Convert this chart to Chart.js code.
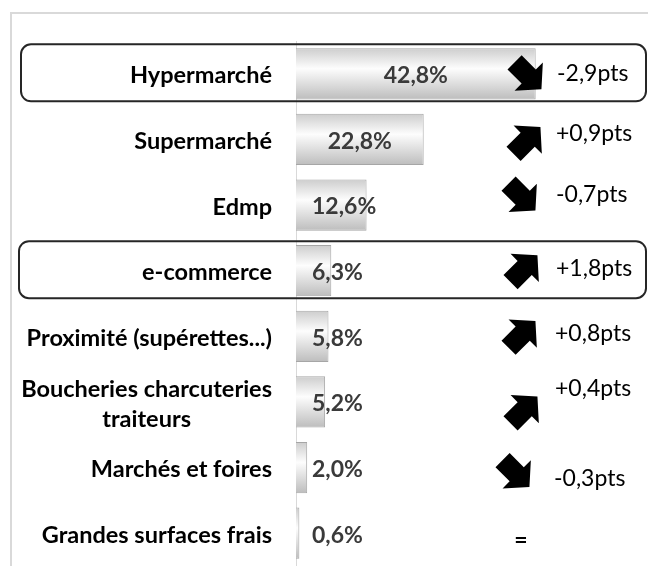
<!DOCTYPE html>
<html>
<head>
<meta charset="utf-8">
<script src="https://cdn.jsdelivr.net/npm/chart.js@4"></script>
<style>
  html, body { margin: 0; padding: 0; background: #fff; }
  #wrap { width: 648px; height: 566px; position: relative; }
</style>
</head>
<body>
<div id="wrap"><canvas id="chart"></canvas></div>
<script>
const categories = [
    "Hypermarché",
    "Supermarché",
    "Edmp",
    "e-commerce",
    "Proximité (supérettes...)",
    ["Boucheries charcuteries", "traiteurs"],
    "Marchés et foires",
    "Grandes surfaces frais"
];
const shares = [42.8, 22.8, 12.6, 6.3, 5.8, 5.2, 2.0, 0.6];
const changes = [-2.9, 0.9, -0.7, 1.8, 0.8, 0.4, -0.3, 0];
const highlighted = [0, 3];

const fmtShare = v => v.toFixed(1).replace(".", ",") + "%";
const fmtChange = v => v === 0 ? "=" : (v > 0 ? "+" : "-") + Math.abs(v).toFixed(1).replace(".", ",") + "pts";

// hand placed arrows / texts, offsets from each row centre (like the original slide)
const rowLayout = [
    { ax: 528, ay: 2, tx: 557, ty: 0 },
    { ax: 527, ay: 1, tx: 556, ty: -6 },
    { ax: 522, ay: -8, tx: 556, ty: -10 },
    { ax: 524, ay: -2, tx: 556, ty: -2 },
    { ax: 522, ay: -2, tx: 555, ty: -3 },
    { ax: 524, ay: 8, tx: 555, ty: -13 },
    { ax: 516, ay: 6, tx: 554, ty: 11 },
    { ax: 521, ay: 7, tx: 521, ty: 7 }
];

function drawArrow(ctx, cx, cy, up) {
    const a = 19, s = 10, h = 20, hl = 18;
    ctx.save();
    ctx.translate(cx, cy);
    ctx.rotate(up ? -Math.PI / 4 : Math.PI / 4);
    ctx.beginPath();
    ctx.moveTo(-a, -s);
    ctx.lineTo(a - hl, -s);
    ctx.lineTo(a - hl, -h);
    ctx.lineTo(a, 0);
    ctx.lineTo(a - hl, h);
    ctx.lineTo(a - hl, s);
    ctx.lineTo(-a, s);
    ctx.closePath();
    ctx.fillStyle = "#000";
    ctx.fill();
    ctx.restore();
}

function roundRect(ctx, x, y, w, h, r) {
    ctx.beginPath();
    ctx.moveTo(x + r, y);
    ctx.arcTo(x + w, y, x + w, y + h, r);
    ctx.arcTo(x + w, y + h, x, y + h, r);
    ctx.arcTo(x, y + h, x, y, r);
    ctx.arcTo(x, y, x + w, y, r);
    ctx.closePath();
}

const decor = {
    id: "decor",
    beforeDraw(chart) {
        const ctx = chart.ctx;
        ctx.save();
        ctx.strokeStyle = "#d9d9d9";
        ctx.lineWidth = 2;
        ctx.beginPath();
        ctx.moveTo(11, 566);
        ctx.lineTo(11, 13);
        ctx.lineTo(648, 13);
        ctx.stroke();
        ctx.restore();
    },
    afterDatasetsDraw(chart) {
        const ctx = chart.ctx;
        const yScale = chart.scales.y;
        const bars = chart.getDatasetMeta(0).data;
        ctx.save();

        // value labels
        ctx.font = "bold 23px Lato";
        ctx.fillStyle = "#3a3a3a";
        ctx.textBaseline = "middle";
        bars.forEach((bar, i) => {
            const w = bar.x - bar.base;
            if (w > 90) {
                ctx.textAlign = "center";
                ctx.fillText(fmtShare(shares[i]), (bar.x + bar.base) / 2, bar.y + 2);
            } else {
                ctx.textAlign = "left";
                ctx.fillText(fmtShare(shares[i]), bar.base + 16, bar.y + 2);
            }
        });

        // category labels
        ctx.font = "bold 23.5px Lato";
        ctx.fillStyle = "#000";
        const right = chart.chartArea.left - 24;
        categories.forEach((c, i) => {
            const yc = yScale.getPixelForValue(i) + 2;
            if (Array.isArray(c)) {
                const wMax = Math.max(...c.map(t => ctx.measureText(t).width));
                const mid = right - wMax / 2;
                ctx.textAlign = "center";
                c.forEach((t, k) => {
                    ctx.fillText(t, mid, yc + (k - (c.length - 1) / 2) * 30);
                });
            } else {
                ctx.textAlign = "right";
                ctx.fillText(c, right, yc);
            }
        });

        // change arrows + texts
        changes.forEach((v, i) => {
            const yc = yScale.getPixelForValue(i);
            const L = rowLayout[i];
            if (v !== 0) {
                drawArrow(ctx, L.ax, yc + L.ay, v > 0);
                ctx.textAlign = "left";
                ctx.font = "23px Lato";
            } else {
                ctx.textAlign = "center";
                ctx.font = "bold 23px Lato";
            }
            ctx.fillStyle = "#000";
            ctx.fillText(fmtChange(v), L.tx, yc + L.ty);
        });

        // highlight boxes
        ctx.strokeStyle = "#262626";
        ctx.lineWidth = 2;
        highlighted.forEach(i => {
            const yc = yScale.getPixelForValue(i);
            const x0 = i === 0 ? 21 : 19;
            roundRect(ctx, x0, yc - 29.5, 646 - x0, 57, 10);
            ctx.stroke();
        });
        ctx.restore();
    }
};

function barFill(c) {
    const chart = c.chart;
    const y = chart.scales.y;
    if (!y || !chart.chartArea) return "#e0e0e0";
    const yc = y.getPixelForValue(c.dataIndex);
    const g = chart.ctx.createLinearGradient(0, yc - 26, 0, yc + 26);
    g.addColorStop(0, "#cccccc");
    g.addColorStop(0.4, "#fdfdfd");
    g.addColorStop(1, "#bcbcbc");
    return g;
}

function build() {
    new Chart(document.getElementById("chart"), {
        type: "bar",
        data: {
            labels: categories,
            datasets: [{
                data: shares,
                backgroundColor: barFill,
                borderColor: "#a6a6a6",
                borderWidth: 1,
                borderSkipped: "left",
                barPercentage: 0.78,
                categoryPercentage: 1
            }]
        },
        options: {
            indexAxis: "y",
            responsive: true,
            maintainAspectRatio: false,
            animation: false,
            layout: { padding: { left: 296, right: 16, top: 41, bottom: 0 } },
            plugins: {
                legend: { display: false },
                tooltip: { enabled: false }
            },
            scales: {
                x: { display: false, min: 0, max: 60 },
                y: {
                    grid: { display: false },
                    border: { color: "#d9d9d9", width: 1 },
                    ticks: { display: false },
                    afterFit: s => { s.width = 0; }
                }
            }
        },
        plugins: [decor]
    });
}

document.fonts.load("bold 22px Lato").then(build, build);
</script>
</body>
</html>
